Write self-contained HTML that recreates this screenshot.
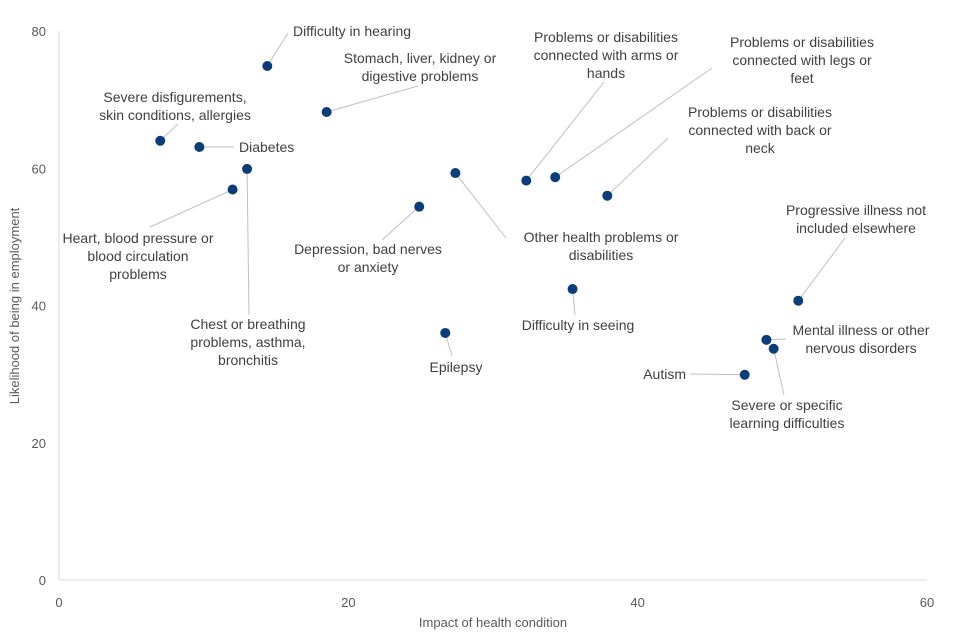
<!DOCTYPE html>
<html><head><meta charset="utf-8"><style>
body{margin:0;background:#fff}
svg{display:block;font-family:"Liberation Sans",Arial,sans-serif}
.lbl{font-size:14px;fill:#404040}
.tick{font-size:13px;fill:#595959}
</style></head><body>
<svg id="chart" width="960" height="640" viewBox="0 0 960 640"></svg>
<script>
const names=["Difficulty in hearing","Stomach, liver, kidney or digestive problems","Severe disfigurements, skin conditions, allergies","Diabetes","Chest or breathing problems, asthma, bronchitis","Heart, blood pressure or blood circulation problems","Depression, bad nerves or anxiety","Other health problems or disabilities","Problems or disabilities connected with arms or hands","Problems or disabilities connected with legs or feet","Problems or disabilities connected with back or neck","Progressive illness not included elsewhere","Difficulty in seeing","Epilepsy","Mental illness or other nervous disorders","Severe or specific learning difficulties","Autism"];
const impact=[14.4,18.5,7.0,9.7,13.0,12.0,24.9,27.4,32.3,34.3,37.9,51.1,35.5,26.7,48.9,49.4,47.4];
const likelihood=[74.9,68.2,64.0,63.1,59.9,56.9,54.4,59.3,58.2,58.7,56.0,40.7,42.4,36.0,35.0,33.7,29.9];
const xTicks=[0,20,40,60];
const yTicks=[0,20,40,60,80];
// label layout: [lines, x, firstY, anchor, leaderEndX, leaderEndY]
const layout=[
[["Difficulty in hearing"],293,36,"start",288,33],
[["Stomach, liver, kidney or","digestive problems"],420,63,"middle",418,86],
[["Severe disfigurements,","skin conditions, allergies"],175,102,"middle",178,124],
[["Diabetes"],239,152,"start",234,147],
[["Chest or breathing","problems, asthma,","bronchitis"],248,329,"middle",249,315],
[["Heart, blood pressure or","blood circulation","problems"],138,243,"middle",150,227],
[["Depression, bad nerves","or anxiety"],368,254,"middle",382,240],
[["Other health problems or","disabilities"],601,242,"middle",506,238],
[["Problems or disabilities","connected with arms or","hands"],606,42,"middle",604,82],
[["Problems or disabilities","connected with legs or","feet"],802,47,"middle",712,68],
[["Problems or disabilities","connected with back or","neck"],760,117,"middle",668,138],
[["Progressive illness not","included elsewhere"],856,215,"middle",845,238],
[["Difficulty in seeing"],578,330,"middle",575,315],
[["Epilepsy"],456,372,"middle",452,356],
[["Mental illness or other","nervous disorders"],861,335,"middle",786,339],
[["Severe or specific","learning difficulties"],787,410,"middle",784,395],
[["Autism"],686,379,"end",690,374]
];
const NS="http://www.w3.org/2000/svg";
const svg=document.getElementById("chart");
const X0=59,X1=927,Y0=580,Y1=31;
const sx=v=>X0+(v-0)/(60-0)*(X1-X0);
const sy=v=>Y0-(v-0)/(80-0)*(Y0-Y1);
function mk(t,a,p){const e=document.createElementNS(NS,t);for(const k in a)e.setAttribute(k,a[k]);(p||svg).appendChild(e);return e;}
let e;
e=mk("line",{x1:X0,y1:Y1,x2:X0,y2:Y0,stroke:"#d9d9d9"});


e=mk("line",{x1:X0,y1:Y0,x2:X1,y2:Y0,stroke:"#d9d9d9"});


xTicks.forEach(t=>{e=mk("text",{x:sx(t),y:Y0+27,"text-anchor":"middle",class:"tick"});e.textContent=t;

});
yTicks.forEach(t=>{e=mk("text",{x:X0-13,y:sy(t)+5,"text-anchor":"end",class:"tick"});e.textContent=t;

});
e=mk("text",{x:493,y:627,"text-anchor":"middle",class:"tick"});e.textContent="Impact of health condition";


e=mk("text",{x:19,y:306,"text-anchor":"middle",class:"tick",transform:"rotate(-90 19 306)"});e.textContent="Likelihood of being in employment";


names.forEach((n,i)=>{
 const px=sx(impact[i]),py=sy(likelihood[i]),L=layout[i];
 e=mk("line",{x1:px,y1:py,x2:L[4],y2:L[5],stroke:"#bfbfbf","stroke-width":1});
 
 
 e=mk("circle",{cx:px,cy:py,r:5,fill:"#0b3d7a"});
 
 
 const t=mk("text",{x:L[1],y:L[2],"text-anchor":L[3],class:"lbl"});
 
 
 L[0].forEach((s,j)=>{const ts=mk("tspan",{x:L[1],y:L[2]+j*18},t);ts.textContent=s;});
});
</script>
</body></html>
